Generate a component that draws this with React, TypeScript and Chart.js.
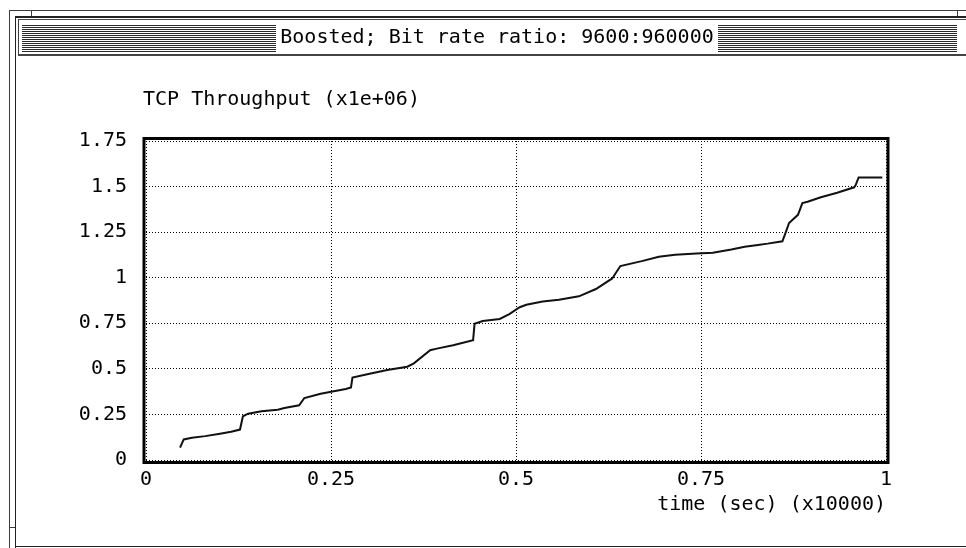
import React, { useEffect, useRef } from "react";
import { Chart, registerables } from "chart.js";

Chart.register(...registerables);

// Window caption and axis captions
const WINDOW_TITLE = "Boosted; Bit rate ratio: 9600:960000";
const Y_TITLE = "TCP Throughput (x1e+06)";
const X_TITLE = "time (sec) (x10000)";

// Cumulative TCP throughput over time (time in units of 10000 s, bytes in units of 1e6)
const timeValues = [
  0.046, 0.051, 0.062, 0.08, 0.1, 0.115, 0.127, 0.131, 0.138, 0.156, 0.178, 0.187,
  0.207, 0.214, 0.236, 0.252, 0.27, 0.277, 0.279, 0.299, 0.326, 0.353, 0.362, 0.384,
  0.393, 0.415, 0.442, 0.444, 0.455, 0.478, 0.491, 0.505, 0.514, 0.536, 0.558, 0.585,
  0.608, 0.63, 0.641, 0.67, 0.693, 0.715, 0.744, 0.766, 0.791, 0.809, 0.827, 0.84,
  0.86, 0.865, 0.869, 0.881, 0.887, 0.894, 0.912, 0.934, 0.957, 0.959, 0.963, 0.995,
];
const throughputValues = [
  0.068, 0.113, 0.122, 0.131, 0.144, 0.155, 0.167, 0.24, 0.254, 0.267, 0.276, 0.285,
  0.3, 0.34, 0.363, 0.376, 0.39, 0.398, 0.452, 0.47, 0.494, 0.512, 0.53, 0.602,
  0.611, 0.629, 0.657, 0.747, 0.762, 0.774, 0.8, 0.838, 0.852, 0.869, 0.879, 0.898,
  0.938, 0.996, 1.064, 1.091, 1.115, 1.126, 1.133, 1.137, 1.155, 1.17, 1.18, 1.187,
  1.2, 1.254, 1.3, 1.345, 1.409, 1.417, 1.441, 1.466, 1.496, 1.508, 1.55, 1.55,
];

const xTickValues = [0, 0.25, 0.5, 0.75, 1];
const xTickLabels = ["0", "0.25", "0.5", "0.75", "1"];
const yTickValues = [0, 0.25, 0.5, 0.75, 1, 1.25, 1.5, 1.75];
const yTickLabels = ["0", "0.25", "0.5", "0.75", "1", "1.25", "1.5", "1.75"];

const FONT_FAMILY = '"DejaVu Sans Mono", "Liberation Mono", monospace';
const WIDTH = 966;
const HEIGHT = 548;

// Draws the X11-style window frame, striped caption bar and the heavy plot box
const windowFrame = {
  id: "windowFrame",
  beforeDraw(chart: any) {
    const ctx = chart.ctx as CanvasRenderingContext2D;
    ctx.save();
    ctx.fillStyle = "#ffffff";
    ctx.fillRect(0, 0, chart.width, chart.height);

    // outer and inner frame lines
    ctx.fillStyle = "#3c3c3c";
    ctx.fillRect(9, 10, WIDTH - 9, 1);
    ctx.fillRect(9, 10, 1, HEIGHT - 10);
    ctx.fillRect(31, 10, 1, 6);
    ctx.fillRect(957, 10, 1, 6);
    ctx.fillRect(9, 527, 6, 1);
    ctx.fillStyle = "#222222";
    ctx.fillRect(15, 16, WIDTH - 15, 2);
    ctx.fillRect(15, 16, 1, HEIGHT - 16);
    ctx.fillRect(15, 546, WIDTH - 15, 1);

    // caption bar
    ctx.fillStyle = "#444444";
    ctx.fillRect(18, 19, WIDTH - 18, 1);
    ctx.fillRect(18, 19, 1, 37);
    ctx.fillRect(18, 54, WIDTH - 18, 2);

    ctx.font = `20px ${FONT_FAMILY}`;
    const tw = ctx.measureText(WINDOW_TITLE).width;
    const cx = 497;
    const tl = Math.round(cx - tw / 2);
    const tr = Math.round(cx + tw / 2);
    ctx.fillStyle = "#2a2a2a";
    for (let y = 25; y <= 51; y += 2) {
      ctx.fillRect(22, y, tl - 26, 1);
      ctx.fillRect(tr + 4, y, 957 - tr - 4, 1);
    }
    ctx.fillStyle = "#000000";
    ctx.textAlign = "center";
    ctx.textBaseline = "middle";
    ctx.fillText(WINDOW_TITLE, cx, 38);

    // y-axis caption above the plot
    ctx.textAlign = "left";
    ctx.fillText(Y_TITLE, 143, 100);
    ctx.restore();
  },
  afterDraw(chart: any) {
    const ctx = chart.ctx as CanvasRenderingContext2D;
    const { left, right, top, bottom } = chart.chartArea;
    ctx.save();
    ctx.strokeStyle = "#000000";
    ctx.lineWidth = 3;
    ctx.strokeRect(left - 2, top - 2.5, right - left + 4, bottom - top + 5);
    ctx.restore();
  },
};

export default function App() {
  const canvasRef = useRef<HTMLCanvasElement | null>(null);

  useEffect(() => {
    const canvas = canvasRef.current;
    if (!canvas) return;
    const points = timeValues.map((t, i) => ({ x: t, y: throughputValues[i] }));
    const tickFont = { family: FONT_FAMILY, size: 20, lineHeight: 1.2 };

    const chart = new Chart(canvas, {
      type: "line",
      data: {
        datasets: [
          {
            data: points,
            borderColor: "#111111",
            borderWidth: 2,
            pointRadius: 0,
            tension: 0,
            fill: false,
          },
        ],
      },
      options: {
        animation: false,
        responsive: false,
        devicePixelRatio: 1,
        events: [],
        layout: { padding: { top: 141, right: 80, left: 0, bottom: 0 } },
        plugins: {
          legend: { display: false },
          tooltip: { enabled: false },
          title: { display: false },
        },
        scales: {
          x: {
            type: "linear",
            min: 0,
            max: 1,
            afterFit: (scale: any) => {
              scale.height = 88;
            },
            afterBuildTicks: (scale: any) => {
              scale.ticks = xTickValues.map((v) => ({ value: v }));
            },
            ticks: {
              autoSkip: false,
              maxRotation: 0,
              padding: 8,
              color: "#000000",
              font: tickFont,
              callback: (_v: any, i: number) => xTickLabels[i],
            },
            grid: { color: "#000000", lineWidth: 1, drawTicks: false },
            border: { display: false, dash: [1, 2] },
            title: {
              display: true,
              text: X_TITLE,
              align: "end",
              color: "#000000",
              font: tickFont,
              padding: { top: 0, bottom: 31 },
            },
          },
          y: {
            type: "linear",
            min: 0,
            max: 1.75,
            afterFit: (scale: any) => {
              scale.width = 146;
            },
            afterBuildTicks: (scale: any) => {
              scale.ticks = yTickValues.map((v) => ({ value: v }));
            },
            ticks: {
              autoSkip: false,
              padding: 19,
              color: "#000000",
              font: tickFont,
              callback: (_v: any, i: number) => yTickLabels[i],
            },
            grid: { color: "#000000", lineWidth: 1, drawTicks: false },
            border: { display: false, dash: [1, 2] },
          },
        },
      },
      plugins: [windowFrame],
    } as any);

    return () => chart.destroy();
  }, []);

  return (
    <div style={{ position: "fixed", left: 0, top: 0, width: WIDTH, height: HEIGHT, background: "#fff" }}>
      <canvas ref={canvasRef} width={WIDTH} height={HEIGHT} style={{ display: "block", width: WIDTH, height: HEIGHT }} />
    </div>
  );
}
